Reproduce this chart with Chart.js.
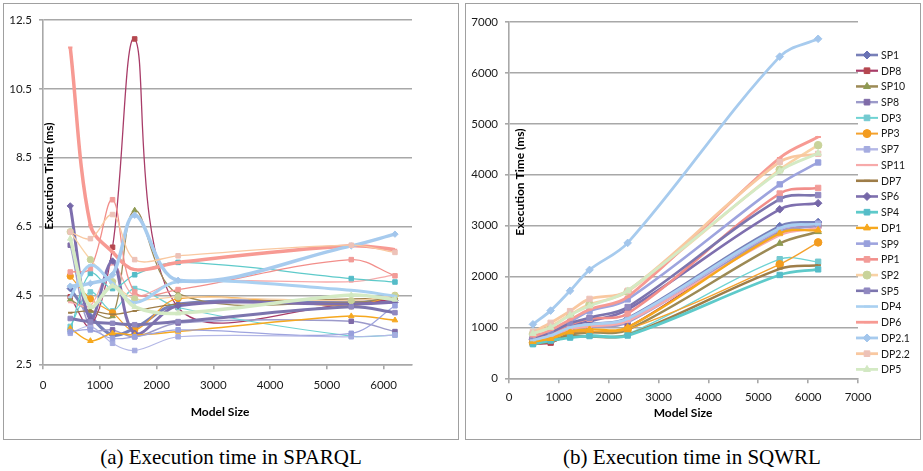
<!DOCTYPE html>
<html><head><meta charset="utf-8">
<script src="https://cdn.jsdelivr.net/npm/chart.js@4.4.0/dist/chart.umd.min.js"></script>
<style>
body{margin:0;background:#fff;width:923px;height:471px;overflow:hidden;position:relative;font-family:Lato}
.frame{position:absolute;top:3px;height:437px;border:1px solid #a0a0a0;box-sizing:border-box}
#f1{left:3px;width:456px}
#f2{left:465px;width:456px}
canvas{position:absolute;top:0}
.cap{position:absolute;top:445px;font-family:"Liberation Serif";font-size:21px;color:#000;text-align:center;width:462px;white-space:nowrap}
</style></head>
<body>
<div class="frame" id="f1"></div><div class="frame" id="f2"></div>
<canvas id="c1" width="461" height="440" style="left:0"></canvas>
<canvas id="c2" width="462" height="440" style="left:461px"></canvas>
<div class="cap" style="left:0">(a) Execution time in SPARQL</div>
<div class="cap" style="left:461px">(b) Execution time in SQWRL</div>
<script>
// ---------- data ----------
const modelSizes = [480, 835, 1225, 1615, 2380, 5430, 6200];
const seriesNames = ['SP1','DP8','SP10','SP8','DP3','PP3','SP7','SP11','DP7','SP6','SP4','DP1','SP9','PP1','SP2','SP5','DP4','DP6','DP2.1','DP2.2','DP5'];

const sparqlTicksX = [0, 1000, 2000, 3000, 4000, 5000, 6000];
const sparqlTicksY = [2.5, 4.5, 6.5, 8.5, 10.5, 12.5];
const sqwrlTicksX = [0, 1000, 2000, 3000, 4000, 5000, 6000, 7000];
const sqwrlTicksY = [0, 1000, 2000, 3000, 4000, 5000, 6000, 7000];

// SPARQL execution time (ms)
const sparqlSP1   = [4.70, 3.90, 3.35, 3.55, 4.25, 4.30, 4.35];
const sparqlDP8   = [4.46, 3.60, 5.90, 11.95, 4.15, 4.25, 4.40];
const sparqlSP10  = [4.38, 4.05, 3.90, 6.97, 4.55, 4.30, 4.45];
const sparqlSP8   = [5.96, 3.54, 3.50, 3.30, 3.70, 3.75, 3.45];
const sparqlDP3   = [3.60, 4.60, 4.05, 4.70, 4.15, 3.32, 3.35];
const sparqlPP3   = [5.06, 4.40, 4.00, 3.50, 4.41, 4.20, 4.50];
const sparqlSP7   = [3.40, 3.60, 3.11, 2.90, 3.30, 3.30, 3.35];
const sparqlSP11  = [4.30, 4.20, 5.40, 4.50, 4.90, 4.90, 5.10];
const sparqlDP7   = [4.00, 4.05, 3.95, 4.05, 4.25, 4.40, 4.40];
const sparqlSP6   = [7.10, 3.80, 5.50, 3.40, 4.20, 4.25, 4.30];
const sparqlSP4   = [3.50, 5.14, 4.70, 5.10, 5.46, 4.99, 4.89];
const sparqlDP1   = [3.54, 3.18, 3.40, 3.35, 3.45, 3.90, 3.78];
const sparqlSP9   = [3.45, 3.50, 3.25, 3.30, 3.50, 3.40, 4.20];
const sparqlPP1   = [5.18, 5.28, 7.28, 4.60, 4.67, 5.54, 5.07];
const sparqlSP2   = [6.35, 5.54, 4.90, 4.40, 4.46, 4.35, 4.50];
const sparqlSP5   = [3.83, 3.73, 3.69, 3.65, 3.74, 4.17, 4.00];
const sparqlDP4   = [4.45, 5.38, 4.85, 4.29, 4.90, 4.65, 4.48];
const sparqlDP6   = [11.70, 6.54, 5.76, 5.25, 5.46, 5.94, 5.83];
const sparqlDP2_1 = [4.77, 4.85, 5.10, 6.83, 4.94, 5.94, 6.28];
const sparqlDP2_2 = [6.34, 6.15, 6.85, 5.54, 5.65, 5.96, 5.75];
const sparqlDP5   = [6.15, 4.17, 4.77, 4.17, 3.98, 4.51, 4.38];

// SQWRL execution time (ms)
const sqwrlSP1   = [760, 850, 1000, 1060, 1180, 2990, 3070];
const sqwrlDP8   = [680, 700, 880, 900, 1000, 2900, 3000];
const sqwrlSP10  = [700, 740, 860, 900, 950, 2650, 2880];
const sqwrlSP8   = [740, 820, 960, 1000, 1100, 2870, 2990];
const sqwrlDP3   = [690, 760, 820, 850, 870, 2340, 2290];
const sqwrlPP3   = [700, 770, 900, 920, 960, 2240, 2670];
const sqwrlSP7   = [780, 860, 1000, 1050, 1150, 2920, 3040];
const sqwrlSP11  = [750, 830, 970, 1020, 1120, 2810, 2950];
const sqwrlDP7   = [680, 720, 830, 820, 850, 2150, 2220];
const sqwrlSP6   = [790, 900, 1050, 1120, 1350, 3320, 3440];
const sqwrlSP4   = [670, 740, 800, 830, 840, 2030, 2140];
const sqwrlDP1   = [720, 780, 920, 960, 1000, 2850, 2910];
const sqwrlSP9   = [820, 920, 1110, 1320, 1550, 3810, 4240];
const sqwrlPP1   = [800, 880, 1060, 1170, 1270, 3630, 3740];
const sqwrlSP2   = [870, 1020, 1250, 1450, 1700, 4100, 4580];
const sqwrlSP5   = [800, 900, 1080, 1190, 1400, 3520, 3600];
const sqwrlDP4   = [750, 840, 1000, 1060, 1170, 2950, 3030];
const sqwrlDP6   = [820, 950, 1150, 1350, 1600, 4330, 4740];
const sqwrlDP2_1 = [1060, 1330, 1720, 2130, 2660, 6320, 6670];
const sqwrlDP2_2 = [910, 1090, 1320, 1560, 1720, 4250, 4410];
const sqwrlDP5   = [880, 1000, 1240, 1420, 1720, 4070, 4420];

const sparqlSeries = [sparqlSP1,sparqlDP8,sparqlSP10,sparqlSP8,sparqlDP3,sparqlPP3,sparqlSP7,sparqlSP11,sparqlDP7,sparqlSP6,sparqlSP4,sparqlDP1,sparqlSP9,sparqlPP1,sparqlSP2,sparqlSP5,sparqlDP4,sparqlDP6,sparqlDP2_1,sparqlDP2_2,sparqlDP5];
const sqwrlSeries = [sqwrlSP1,sqwrlDP8,sqwrlSP10,sqwrlSP8,sqwrlDP3,sqwrlPP3,sqwrlSP7,sqwrlSP11,sqwrlDP7,sqwrlSP6,sqwrlSP4,sqwrlDP1,sqwrlSP9,sqwrlPP1,sqwrlSP2,sqwrlSP5,sqwrlDP4,sqwrlDP6,sqwrlDP2_1,sqwrlDP2_2,sqwrlDP5];

// ---------- styles ----------
const lineColors   = ['#7880B8','#A83C68','#9C8A55','#9C9ACA','#6FD3D3','#F4A22E','#B4B8E6','#F7AAAA','#9E7D48','#7E6FAE','#5ECACA','#F6A81E','#9EA4DE','#F28E8A','#F9D2A6','#7C75AE','#A9D0F1','#F79A93','#A7CBEE','#F9C8A0','#D4EAC4'];
const markerColors = ['#6A73B5','#B5474F','#8E9A52','#7F6BA8','#74C9D0','#F39C1F','#A5ACE0','#F7AAAA','#9E7D48','#7567A8','#55BCC8','#F6A81E','#98A0DC','#F29C98','#C9D39A','#9088C0','#A9D0F1','#F79A93','#A3C6EC','#EDC2B8','#D2E8C2'];
const markerStyles = ['rectRot','rect','triangle','rect','rect','circle','rect','line','line','rectRot','rect','triangle','rect','rect','circle','rect','line','line','rectRot','rect','triangle'];
const sparqlWidths = [3,1.3,1.3,1.5,1.2,1.2,1.2,1.3,1.3,3,1.2,1.5,1.2,1.3,1.3,3,3,3.5,3.5,1.3,3.5];
const sqwrlWidths  = [2.6,2.2,2.5,2.4,1.3,1.4,2.4,2.2,2.6,2.6,2.8,2.4,2.6,2.6,2.6,2.6,2.6,2.8,2.8,2.8,2.8];

Chart.defaults.font.family = 'Lato';
Chart.defaults.color = '#1a1a1a';

function buildDatasets(seriesList, widths, radius) {
  return seriesList.map((vals, i) => ({
    label: seriesNames[i],
    data: modelSizes.map((x, j) => ({x: x, y: vals[j]})),
    borderColor: lineColors[i],
    backgroundColor: lineColors[i],
    borderWidth: widths[i],
    pointStyle: markerStyles[i],
    pointRadius: markerStyles[i] === 'line' ? radius - 1 : radius,
    pointBackgroundColor: markerColors[i],
    pointBorderColor: markerStyles[i] === 'line' ? lineColors[i] : markerColors[i],
    pointBorderWidth: markerStyles[i] === 'line' ? 2 : 1,
    tension: 0.35,
    fill: false,
    order: -i
  }));
}

const titlesPlugin = {
  id: 'titles',
  afterDraw(chart, args, o) {
    const ctx = chart.ctx;
    ctx.save();
    ctx.fillStyle = '#000';
    ctx.font = 'bold 12px Lato';
    ctx.textAlign = 'center';
    ctx.textBaseline = 'middle';
    ctx.fillText(o.x, o.xPos[0], o.xPos[1]);
    ctx.translate(o.yPos[0], o.yPos[1]);
    ctx.rotate(-Math.PI / 2);
    ctx.fillText(o.y, 0, 0);
    ctx.restore();
  }
};

const legendPlugin = {
  id: 'sideLegend',
  afterDraw(chart, args, o) {
    if (!o.show) return;
    const ctx = chart.ctx;
    ctx.save();
    chart.data.datasets.forEach((ds, i) => {
      const y = o.top + i * o.step;
      ctx.strokeStyle = ds.borderColor;
      ctx.lineWidth = Math.max(ds.borderWidth, 2);
      ctx.beginPath(); ctx.moveTo(o.left, y); ctx.lineTo(o.left + o.len, y); ctx.stroke();
      ctx.fillStyle = ds.pointBackgroundColor;
      ctx.strokeStyle = ds.pointBorderColor;
      ctx.lineWidth = ds.pointBorderWidth;
      Chart.helpers.drawPoint(ctx, {pointStyle: ds.pointStyle, radius: ds.pointStyle === 'line' ? 3 : 4, rotation: 0, borderWidth: ds.pointBorderWidth}, o.left + o.len / 2, y);
      ctx.fillStyle = '#1a1a1a';
      ctx.font = '10.5px Lato';
      ctx.textAlign = 'left';
      ctx.textBaseline = 'middle';
      ctx.fillText(ds.label, o.left + o.len + 3, y + 0.5);
    });
    ctx.restore();
  }
};

function makeChart(id, cfg) {
  const gridColor = '#a8a8a8';
  return new Chart(document.getElementById(id), {
    type: 'line',
    data: {datasets: cfg.datasets},
    plugins: [titlesPlugin, legendPlugin],
    options: {
      responsive: false,
      animation: false,
      layout: {padding: {left: 0, top: cfg.top, right: cfg.right, bottom: 0}},
      plugins: {
        legend: {display: false},
        tooltip: {enabled: false},
        titles: cfg.titles,
        sideLegend: cfg.legend
      },
      scales: {
        x: {
          type: 'linear', min: 0, max: cfg.xMax,
          ticks: {padding: cfg.xPad, font: {size: 11.5}, color: '#1a1a1a', maxRotation: 0, autoSkip: false, callback: v => String(v)},
          afterBuildTicks: s => { s.ticks = cfg.xTicks.map(v => ({value: v})); },
          afterFit: s => { s.height = cfg.xHeight; },
          grid: {drawOnChartArea: false, drawTicks: true, tickLength: 5, tickColor: gridColor, lineWidth: 1.6},
          border: {color: gridColor, width: 1.6}
        },
        y: {
          type: 'linear', min: cfg.yTicks[0], max: cfg.yTicks[cfg.yTicks.length - 1],
          afterBuildTicks: s => { s.ticks = cfg.yTicks.map(v => ({value: v})); },
          ticks: {padding: 7, font: {size: 11.5}, color: '#1a1a1a', autoSkip: false, callback: v => String(v)},
          afterFit: s => { s.width = cfg.yWidth; },
          grid: {color: gridColor, lineWidth: 1.6, tickLength: 4, tickColor: gridColor},
          border: {color: gridColor, width: 1.6}
        }
      }
    }
  });
}

makeChart('c1', {
  datasets: buildDatasets(sparqlSeries, sparqlWidths, 3.2),
  top: 20, right: 49, xMax: 6500, xHeight: 75.7, xPad: 9, yWidth: 43,
  xTicks: sparqlTicksX, yTicks: sparqlTicksY,
  titles: {x: 'Model Size', xPos: [220, 412], y: 'Execution Time (ms)', yPos: [49, 176]},
  legend: {show: false}
});

makeChart('c2', {
  datasets: buildDatasets(sqwrlSeries, sqwrlWidths, 3.8),
  top: 22, right: 65, xMax: 7000, xHeight: 61.7, xPad: 7, yWidth: 48,
  xTicks: sqwrlTicksX, yTicks: sqwrlTicksY,
  titles: {x: 'Model Size', xPos: [222, 413], y: 'Execution Time (ms)', yPos: [59, 182]},
  legend: {show: true, left: 395, len: 22, top: 55, step: 15.72}
});
</script>
</body></html>
